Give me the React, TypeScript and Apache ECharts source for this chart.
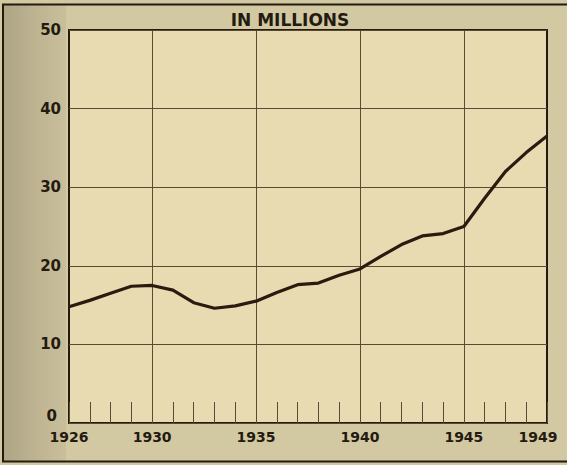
import React, { useEffect, useRef } from "react";
import * as echarts from "echarts";

const years = [
  1926, 1927, 1928, 1929, 1930, 1931, 1932, 1933, 1934, 1935, 1936, 1937,
  1938, 1939, 1940, 1941, 1942, 1943, 1944, 1945, 1946, 1947, 1948, 1949,
];
const values = [
  14.8, 15.6, 16.5, 17.4, 17.5, 16.9, 15.3, 14.6, 14.9, 15.5, 16.6, 17.6,
  17.8, 18.8, 19.6, 21.2, 22.7, 23.8, 24.1, 25.0, 28.6, 32.0, 34.4, 36.5,
];
const xLabelYears = [1926, 1930, 1935, 1940, 1945, 1949];
const xGridYears = [1930, 1935, 1940, 1945];
const yTicks = [0, 10, 20, 30, 40, 50];
const title = "IN MILLIONS";

const INK = "#231a10";
const FONT = "DejaVu Sans";

export default function App() {
  const ref = useRef<HTMLDivElement>(null);
  useEffect(() => {
    if (!ref.current) return;
    const chart = echarts.init(ref.current, null, { renderer: "svg" });
    chart.setOption({
      animation: false,
      backgroundColor: "#d2c8a2",
      graphic: [
        {
          type: "rect",
          shape: { x: 4, y: 5, width: 62, height: 456 },
          style: {
            fill: new echarts.graphic.LinearGradient(0, 0, 1, 0, [
              { offset: 0, color: "#aea585" },
              { offset: 0.5, color: "#bdb391" },
              { offset: 1, color: "#c9bf9b" },
            ]),
          },
          z: -10,
        },
        {
          type: "rect",
          shape: { x: 3, y: 4.5, width: 600, height: 457 },
          style: { fill: "none", stroke: INK, lineWidth: 2 },
          z: 10,
        },
        {
          type: "text",
          x: 290,
          y: 20,
          style: {
            text: title,
            font: `bold 17px "${FONT}"`,
            fill: INK,
            align: "center",
            verticalAlign: "middle",
          },
        },
      ],
      grid: {
        left: 69,
        right: 20,
        top: 30,
        bottom: 42,
        show: true,
        backgroundColor: "#e8dbb1",
        borderColor: INK,
        borderWidth: 2,
      },
      xAxis: {
        type: "value",
        min: 1926,
        max: 1949,
        interval: 1,
        axisLine: { show: false },
        splitLine: { show: false },
        axisTick: {
          show: true,
          inside: true,
          length: 21,
          lineStyle: { color: "#5a4a34", width: 1 },
        },
        axisLabel: {
          customValues: xLabelYears,
          margin: 7,
          color: INK,
          fontFamily: FONT,
          fontWeight: "bold",
          fontSize: 14,
          formatter: (v: number) => (v === 1949 ? `{last|${v}}` : `${v}`),
          rich: {
            last: {
              fontFamily: FONT,
              fontWeight: "bold",
              fontSize: 14,
              color: INK,
              padding: [0, 18, 0, 0],
            },
          },
        },
      },
      yAxis: {
        type: "value",
        min: 0,
        max: 50,
        interval: 10,
        axisLine: { show: false },
        axisTick: { show: false },
        splitLine: { show: true, lineStyle: { color: "#5a4a32", width: 1 } },
        axisLabel: {
          customValues: yTicks,
          margin: 8,
          color: INK,
          fontFamily: FONT,
          fontWeight: "bold",
          fontSize: 15,
          formatter: (v: number) => (v === 0 ? `{zero|0}` : `${v}`),
          rich: {
            zero: {
              fontFamily: FONT,
              fontWeight: "bold",
              fontSize: 15,
              color: INK,
              padding: [0, 4, 14, 0],
            },
          },
        },
      },
      series: [
        {
          type: "line",
          data: years.map((y, i) => [y, values[i]]),
          showSymbol: false,
          lineStyle: { color: "#2a1b10", width: 3.2 },
          z: 5,
          markLine: {
            silent: true,
            symbol: "none",
            label: { show: false },
            lineStyle: { color: "#5a4a32", width: 1, type: "solid" },
            data: xGridYears.map((y) => ({ xAxis: y })),
          },
        },
      ],
    });
    return () => chart.dispose();
  }, []);
  return (
    <div
      ref={ref}
      style={{ position: "absolute", left: 0, top: 0, width: 567, height: 465 }}
    />
  );
}
